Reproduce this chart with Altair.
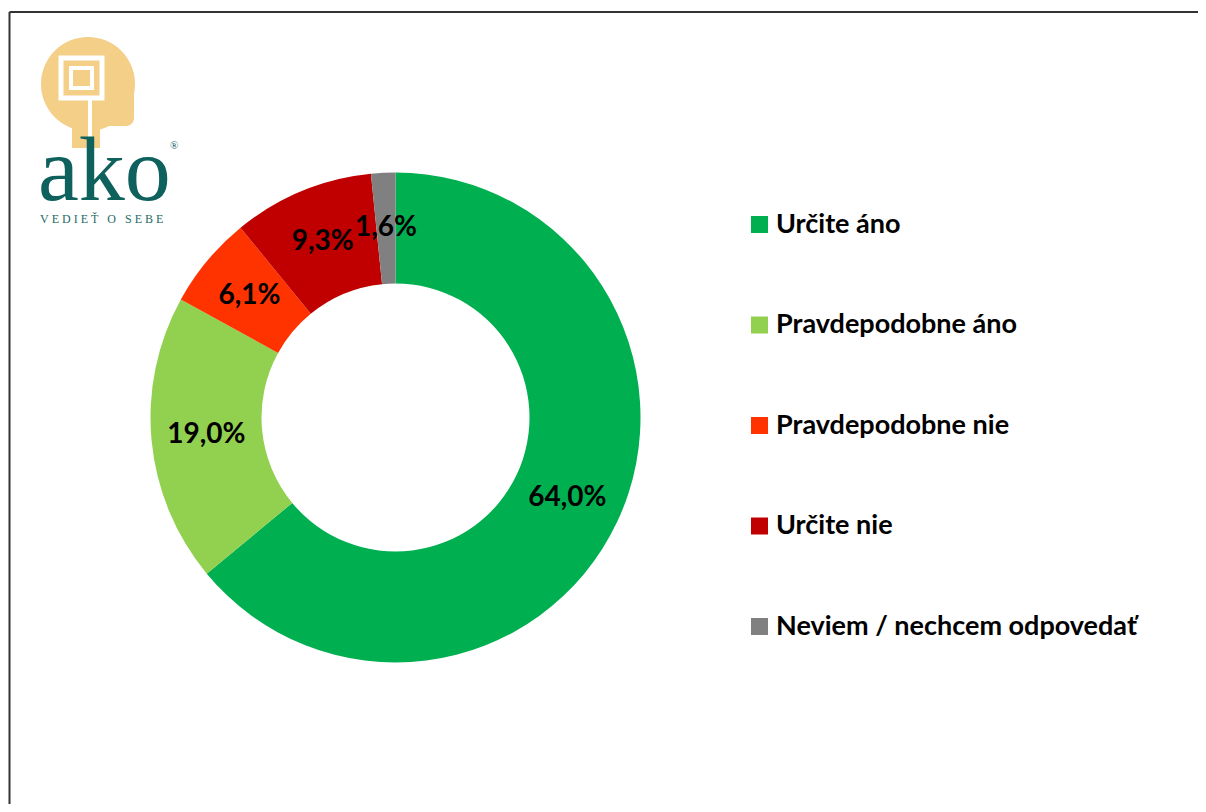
import altair as alt
import pandas as pd

categories = ["Určite áno", "Pravdepodobne áno", "Pravdepodobne nie", "Určite nie", "Neviem / nechcem odpovedať"]
values = [64.0, 19.0, 6.1, 9.3, 1.6]
colors = ["#00B050", "#92D050", "#FF3300", "#C00000", "#808080"]

df = pd.DataFrame({"kategoria": categories, "hodnota": values, "poradie": list(range(len(categories)))})
df["popis"] = [f"{v:.1f}".replace(".", ",") + "%" for v in values]

CX, CY = 387.5, 409.5

base = alt.Chart(df).encode(
    theta=alt.Theta("hodnota:Q", stack=True),
    order=alt.Order("poradie:Q", sort="ascending"),
)

arcs = base.mark_arc(innerRadius=134, outerRadius=245).encode(
    color=alt.Color(
        "kategoria:N",
        scale=alt.Scale(domain=categories, range=colors),
        legend=alt.Legend(
            title=None, orient="none", legendX=738, legendY=203,
            symbolType="square", symbolSize=289, symbolStrokeWidth=0, symbolOpacity=1,
            labelFont="Lato", labelFontSize=27, labelFontWeight="bold", labelColor="black",
            labelOffset=3, rowPadding=72.5, padding=0, labelLimit=600,
        ),
    ),
    x=alt.value(CX), y=alt.value(CY),
)

labels = base.mark_text(radius=190, font="Lato", fontSize=28, fontWeight="bold", color="black").encode(
    text="popis:N", x=alt.value(CX), y=alt.value(CY)
)

deco = alt.Chart(alt.Data(values=[{"a": 1}]))

border_top = deco.mark_rule(color="#333333", strokeWidth=2).encode(
    x=alt.value(1.5), x2=alt.value(1200), y=alt.value(4), y2=alt.value(4))
border_left = deco.mark_rule(color="#333333", strokeWidth=2).encode(
    x=alt.value(1.5), x2=alt.value(1.5), y=alt.value(4), y2=alt.value(806))

head = deco.mark_arc(color="#F3CF88", outerRadius=47, theta=0, theta2=6.2832).encode(
    x=alt.value(80), y=alt.value(76))
face = deco.mark_rect(color="#F3CF88", cornerRadius=8).encode(
    x=alt.value(80), x2=alt.value(126), y=alt.value(60), y2=alt.value(118))
neck = deco.mark_rect(color="#F3CF88").encode(
    x=alt.value(64), x2=alt.value(92), y=alt.value(100), y2=alt.value(140))
spiral1 = deco.mark_rect(fill=None, stroke="white", strokeWidth=5).encode(
    x=alt.value(53), x2=alt.value(94), y=alt.value(50), y2=alt.value(90))
spiral2 = deco.mark_rect(fill=None, stroke="white", strokeWidth=4).encode(
    x=alt.value(63), x2=alt.value(84), y=alt.value(60), y2=alt.value(80))
spiral3 = deco.mark_rule(color="white", strokeWidth=4).encode(
    x=alt.value(82), x2=alt.value(82), y=alt.value(90), y2=alt.value(140))

ako = deco.mark_text(text="ako", font="Liberation Serif", fontSize=92, color="#0E615C",
                     align="left", baseline="alphabetic").encode(x=alt.value(30), y=alt.value(192))
reg = deco.mark_text(text="®", font="Liberation Serif", fontSize=11, color="#0E615C",
                     align="left", baseline="middle").encode(x=alt.value(162), y=alt.value(138))
NB = "\u00a0"
motto_text = NB.join(list("VEDIEŤ")) + NB * 3 + "O" + NB * 3 + NB.join(list("SEBE"))
motto = deco.mark_text(text=motto_text, font="Liberation Serif", fontSize=12,
                       color="#1E6B66", align="left", baseline="alphabetic").encode(
    x=alt.value(32), y=alt.value(215))

chart = alt.layer(
    border_top, border_left, head, face, neck, spiral1, spiral2, spiral3, ako, reg, motto, arcs, labels
).properties(width=1190, height=796, autosize="none", padding=0).configure_view(stroke=None)

chart.save("out.html", embed_options={"renderer": "svg", "actions": False})
